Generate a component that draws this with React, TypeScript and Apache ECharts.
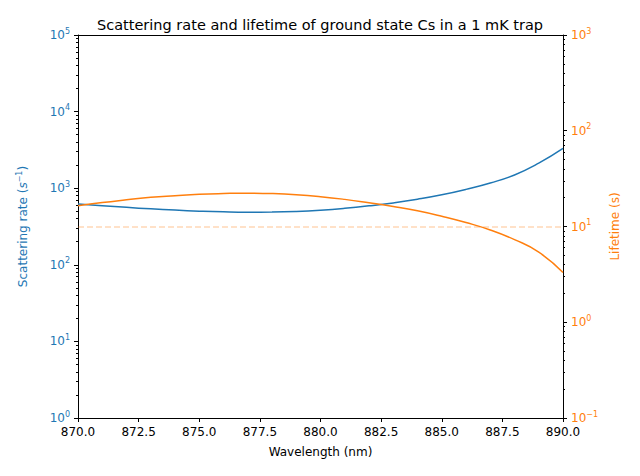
import { useEffect, useRef } from 'react';
import * as echarts from 'echarts';

const wavelengths = [870, 871, 872, 873, 874, 875, 876, 877, 878, 879, 880, 881, 882, 883, 884, 885, 886, 887, 888, 889, 890];
const scatteringRate = [620, 590, 562, 538, 518, 502, 491, 486, 488, 497, 516, 546, 588, 643, 718, 820, 965, 1170, 1490, 2120, 3300];
const lifetime = [16.5, 17.8, 19, 20.2, 21, 21.7, 22.1, 22.3, 22.1, 21.5, 20.5, 19.2, 17.7, 16.2, 14.6, 12.8, 11, 9.2, 7.3, 5.4, 3.3];
const thresholdLifetime = 10;

const BLUE = '#1f77b4';
const ORANGE = '#ff7f0e';
const FONT = 'DejaVu Sans';

const powLabel = (v: number) => {
  const e = Math.round(Math.log10(v));
  return '10{sup|' + (e < 0 ? '\u2212' + -e : e) + '}';
};

export default function App() {
  const ref = useRef<HTMLDivElement>(null);

  useEffect(() => {
    document.body.style.margin = '0';
    if (!ref.current) return;
    const chart = echarts.init(ref.current, null, { renderer: 'svg' });

    const yAxisBase = (color: string) => ({
      type: 'log',
      logBase: 10,
      axisLine: { show: true, lineStyle: { color: '#000' } },
      axisTick: { show: true, length: 4, lineStyle: { color: '#000' } },
      minorTick: { show: true, splitNumber: 9, length: 2, lineStyle: { color: '#000' } },
      splitLine: { show: false },
      axisLabel: {
        color,
        fontFamily: FONT,
        fontSize: 12,
        formatter: powLabel,
        rich: { sup: { fontSize: 8, verticalAlign: 'top', padding: [0, 0, 8, 0], color, fontFamily: FONT } },
      },
      nameLocation: 'middle',
      nameTextStyle: { color, fontFamily: FONT, fontSize: 12 },
    });

    chart.setOption({
      animation: false,
      title: {
        text: 'Scattering rate and lifetime of ground state Cs in a 1 mK trap',
        left: 'center',
        top: 12,
        textStyle: { fontFamily: FONT, fontSize: 14.5, fontWeight: 'normal', color: '#000' },
      },
      grid: { left: 78, right: 77, top: 35, bottom: 58 },
      xAxis: [
        {
          type: 'value',
          min: 870,
          max: 890,
          interval: 2.5,
          name: 'Wavelength (nm)',
          nameLocation: 'middle',
          nameGap: 28,
          nameTextStyle: { color: '#000', fontFamily: FONT, fontSize: 12 },
          axisLine: { show: true, lineStyle: { color: '#000' } },
          axisTick: { show: true, length: 4, lineStyle: { color: '#000' } },
          splitLine: { show: false },
          axisLabel: { color: '#000', fontFamily: FONT, fontSize: 12, formatter: (v: number) => v.toFixed(1) },
        },
        {
          type: 'value',
          position: 'top',
          min: 870,
          max: 890,
          axisLine: { show: true, onZero: false, lineStyle: { color: '#000' } },
          axisTick: { show: false },
          axisLabel: { show: false },
          splitLine: { show: false },
        },
      ],
      yAxis: [
        {
          ...yAxisBase(BLUE),
          min: 1,
          max: 100000,
          position: 'left',
          name: 'Scattering rate ({it|s}{sup|\u22121})',
          nameGap: 47,
          nameTextStyle: {
            color: BLUE,
            fontFamily: FONT,
            fontSize: 12,
            rich: {
              it: { fontStyle: 'italic', color: BLUE, fontFamily: FONT, fontSize: 12 },
              sup: { fontSize: 8, verticalAlign: 'top', padding: [0, 0, 8, 0], color: BLUE, fontFamily: FONT },
            },
          },
        },
        {
          ...yAxisBase(ORANGE),
          min: 0.1,
          max: 1000,
          position: 'right',
          name: 'Lifetime (s)',
          nameGap: 46,
          nameRotate: 90,
        },
      ],
      series: [
        {
          type: 'line',
          yAxisIndex: 0,
          showSymbol: false,
          smooth: true,
          lineStyle: { color: BLUE, width: 1.5 },
          data: wavelengths.map((w, i) => [w, scatteringRate[i]]),
        },
        {
          type: 'line',
          yAxisIndex: 1,
          showSymbol: false,
          smooth: true,
          lineStyle: { color: ORANGE, width: 1.5 },
          data: wavelengths.map((w, i) => [w, lifetime[i]]),
          markLine: {
            silent: true,
            symbol: 'none',
            label: { show: false },
            lineStyle: { color: ORANGE, opacity: 0.3, type: 'dashed', width: 1.5 },
            data: [{ yAxis: thresholdLifetime }],
          },
        },
      ],
    });

    return () => chart.dispose();
  }, []);

  return <div ref={ref} style={{ width: 640, height: 476 }} />;
}
